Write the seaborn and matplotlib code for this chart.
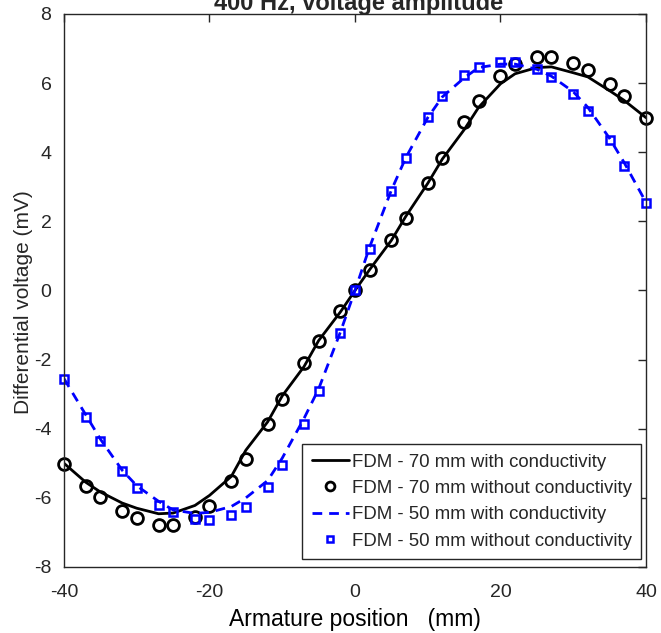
import numpy as np
import pandas as pd
import matplotlib
matplotlib.use("Agg")
import matplotlib.pyplot as plt
import seaborn as sns

# Armature position (mm)
pos = [-40, -37, -35, -32, -30, -27, -25, -22, -20, -17, -15, -12, -10, -7, -5, -2,
       0, 2, 5, 7, 10, 12, 15, 17, 20, 22, 25, 27, 30, 32, 35, 37, 40]

# FDM - 70 mm with conductivity (solid black line)
v70_cond = [-5.0, -5.55, -5.83, -6.15, -6.3, -6.46, -6.44, -6.22, -5.93, -5.38, -4.62, -3.8, -3.05, -2.2, -1.45, -0.62,
            0.0, 0.6, 1.45, 2.15, 3.1, 3.8, 4.65, 5.3, 5.98, 6.27, 6.45, 6.47, 6.3, 6.18, 5.78, 5.5, 5.0]

# FDM - 70 mm without conductivity (black circles)
v70_nocond = [-5.03, -5.66, -5.98, -6.39, -6.59, -6.79, -6.79, -6.56, -6.24, -5.52, -4.88, -3.87, -3.15, -2.11, -1.47, -0.58,
              0.0, 0.58, 1.45, 2.11, 3.12, 3.84, 4.88, 5.49, 6.21, 6.56, 6.76, 6.76, 6.59, 6.39, 5.98, 5.64, 5.0]

# FDM - 50 mm with conductivity (dashed blue line)
v50_cond = [-2.55, -3.6, -4.3, -5.2, -5.65, -6.1, -6.35, -6.45, -6.42, -6.25, -6.0, -5.5, -4.85, -3.7, -2.85, -1.2,
            0.0, 1.25, 2.9, 3.85, 5.0, 5.6, 6.15, 6.45, 6.55, 6.55, 6.4, 6.2, 5.75, 5.3, 4.4, 3.7, 2.55]

# FDM - 50 mm without conductivity (blue squares)
v50_nocond = [-2.57, -3.67, -4.36, -5.23, -5.72, -6.21, -6.42, -6.62, -6.65, -6.50, -6.27, -5.69, -5.06, -3.87, -2.92, -1.24,
              0.0, 1.21, 2.89, 3.84, 5.03, 5.64, 6.24, 6.47, 6.62, 6.62, 6.42, 6.18, 5.69, 5.2, 4.34, 3.61, 2.54]

xticks = [-40, -20, 0, 20, 40]
yticks = [-8, -6, -4, -2, 0, 2, 4, 6, 8]

sns.set_theme(style="white")
plt.rcParams['font.family'] = ['Liberation Sans', 'DejaVu Sans']
plt.rcParams['axes.unicode_minus'] = False

fig = plt.figure(figsize=(6.61, 6.33), dpi=100)
ax = fig.add_axes([0.0968, 0.1043, 0.8805, 0.8736])

blue = "#0000FF"
sns.lineplot(x=pos, y=v70_cond, ax=ax, color="black", linewidth=2.0,
             label="FDM - 70 mm with conductivity", sort=False)
sns.lineplot(x=pos, y=v70_nocond, ax=ax, color="black", linestyle="none",
             marker="o", markersize=8.5, markerfacecolor="none",
             markeredgecolor="black", markeredgewidth=2.0, clip_on=False,
             label="FDM - 70 mm without conductivity", sort=False)
sns.lineplot(x=pos, y=v50_cond, ax=ax, color=blue, linewidth=2.0,
             linestyle=(0, (3.5, 2.5)),
             label="FDM - 50 mm with conductivity", sort=False)
sns.lineplot(x=pos, y=v50_nocond, ax=ax, color=blue, linestyle="none",
             marker="s", markersize=5.5, markerfacecolor="none",
             markeredgecolor=blue, markeredgewidth=1.8, clip_on=False,
             label="FDM - 50 mm without conductivity", sort=False)

ax.set_xlim(-40, 40)
ax.set_ylim(-8, 8)
ax.set_xticks(xticks)
ax.set_yticks(yticks)
ax.tick_params(axis="both", direction="in", length=6, width=1, top=True, right=True,
               labelsize=14, colors="#262626")
ax.tick_params(axis="x", pad=12)
ax.tick_params(axis="y", pad=9)
for sp in ax.spines.values():
    sp.set_color("#262626")
    sp.set_linewidth(1.0)

ax.set_xlabel("Armature position   (mm)", fontsize=16.5, color="black", labelpad=5)
ax.set_ylabel("Differential voltage (mV)", fontsize=15, color="#262626", labelpad=1)
ax.yaxis.label.set_y(0.479)

fig.text(0.543, 0.984, "400 Hz, voltage amplitude", ha="center", va="baseline",
         fontsize=17, fontweight="bold", color="#262626")

leg = ax.legend(loc="lower right", fontsize=13.4, frameon=True, fancybox=False,
                edgecolor="#262626", framealpha=1, handlelength=2.0,
                handletextpad=0.15, borderpad=0.5, labelspacing=0.5,
                borderaxespad=0.0, bbox_to_anchor=(0.9914, 0.0145),
                markerscale=0.75)
leg.get_frame().set_linewidth(1.0)

fig.savefig("out.png", dpi=100)
